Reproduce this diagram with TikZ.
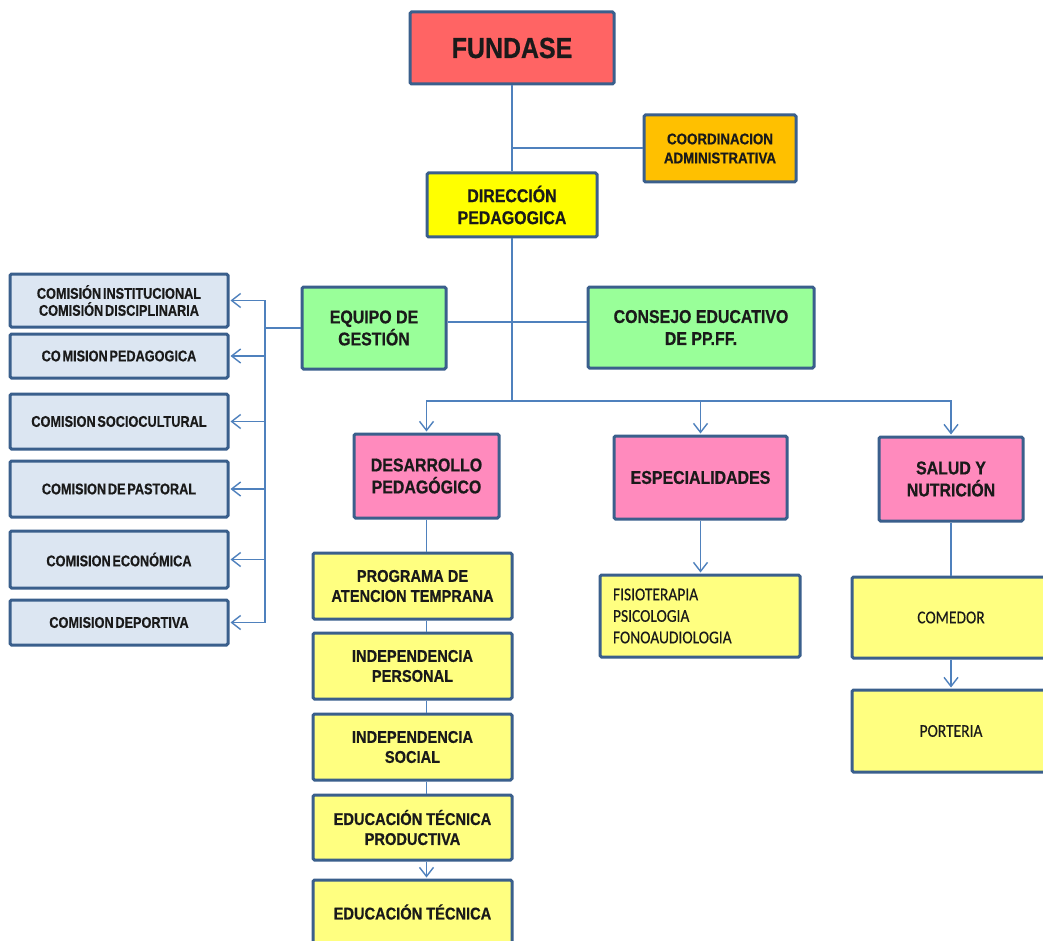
\documentclass[tikz,border=0pt]{standalone}
\usepackage{fontspec}
\setmainfont{Liberation Sans}[FakeStretch=0.86, BoldFeatures={FakeStretch=0.86, FakeBold=0.6}]
\newfontfamily\comfont{Liberation Sans}[WordSpace=0.5, FakeStretch=0.82, BoldFeatures={FakeStretch=0.82, FakeBold=0.6, WordSpace=0.5}]
\newfontfamily\calib{Carlito}[FakeStretch=0.86, FakeBold=0.3]
\usetikzlibrary{arrows.meta,calc}
\definecolor{bord}{HTML}{3A5F8C}
\definecolor{conn}{HTML}{4F81BD}
\definecolor{txt}{HTML}{1A1A1A}
\definecolor{cred}{HTML}{FF6464}
\definecolor{corange}{HTML}{FFC000}
\definecolor{cyellow}{HTML}{FFFF00}
\definecolor{cgreen}{HTML}{99FF99}
\definecolor{cpink}{HTML}{FF8ABD}
\definecolor{cblue}{HTML}{DCE6F2}
\definecolor{clyel}{HTML}{FFFF80}
\begin{document}
\begin{tikzpicture}[x=1pt,y=-1pt,
  box/.style={draw=bord, line width=3pt, rounded corners=1.5pt, align=center,
    inner sep=1pt, text=txt},
  ftop/.style={font=\bfseries\fontsize{29}{32}\selectfont},
  fbig/.style={font=\bfseries\fontsize{18.5}{22}\selectfont},
  fmid/.style={font=\bfseries\fontsize{15.5}{19}\selectfont},
  fcom/.style={font=\comfont\bfseries\fontsize{15.5}{17}\selectfont},
  fyel/.style={font=\bfseries\fontsize{17}{20}\selectfont},
  fcal/.style={font=\calib\fontsize{18}{21.5}\selectfont},
  comm/.style={box, fcom, fill=cblue, minimum width=218pt},
  yel/.style={box, fyel, fill=clyel, minimum width=199pt},
  pink/.style={box, fbig, fill=cpink},
  link/.style={draw=conn, line width=1.4pt},
  arr/.style={link, -{Straight Barb[length=9pt,width=14pt,line width=1.4pt]}, shorten >=1pt}
]
\useasboundingbox (0,0) rectangle (1043,941);
\fill[white] (0,0) rectangle (1043,941);
\clip (0,0) rectangle (1043,941);

% top
\node[box, ftop, fill=cred, minimum width=204pt, minimum height=72pt] (fund) at (512,48) {FUNDASE};
\node[box, fmid, fill=corange, minimum width=152pt, minimum height=67pt] (coord) at (720,148.5) {COORDINACION\\ADMINISTRATIVA};
\node[box, fbig, fill=cyellow, minimum width=170pt, minimum height=64pt] (dir) at (512,205) {DIRECCIÓN\\PEDAGOGICA};
\node[box, fbig, fill=cgreen, minimum width=144pt, minimum height=82pt] (equipo) at (374,328) {EQUIPO DE\\GESTIÓN};
\node[box, fbig, fill=cgreen, minimum width=226pt, minimum height=81pt] (consejo) at (701,327.5) {CONSEJO EDUCATIVO\\DE PP.FF.};

% commissions
\node[comm, minimum height=53pt] (c1) at (119,300.5) {COMISIÓN INSTITUCIONAL\\COMISIÓN DISCIPLINARIA};
\node[comm, minimum height=44pt] (c2) at (119,356) {CO MISION PEDAGOGICA};
\node[comm, minimum height=55pt] (c3) at (119,421.5) {COMISION SOCIOCULTURAL};
\node[comm, minimum height=56pt] (c4) at (119,489) {COMISION DE PASTORAL};
\node[comm, minimum height=57pt] (c5) at (119,559.5) {COMISION ECONÓMICA};
\node[comm, minimum height=45pt] (c6) at (119,622.5) {COMISION DEPORTIVA};

% second row
\node[pink, minimum width=145pt, minimum height=84pt] (desa) at (426.5,476) {DESARROLLO\\PEDAGÓGICO};
\node[pink, minimum width=173pt, minimum height=83pt] (espec) at (700.5,477.5) {ESPECIALIDADES};
\node[pink, minimum width=144pt, minimum height=84pt] (salud) at (951,479) {SALUD Y\\NUTRICIÓN};

% yellow column
\node[yel, minimum height=66pt] (y1) at (412.5,586) {PROGRAMA DE\\ATENCION TEMPRANA};
\node[yel, minimum height=66pt] (y2) at (412.5,666) {INDEPENDENCIA\\PERSONAL};
\node[yel, minimum height=66pt] (y3) at (412.5,747) {INDEPENDENCIA\\SOCIAL};
\node[yel, minimum height=65pt] (y4) at (412.5,827.5) {EDUCACIÓN TÉCNICA\\PRODUCTIVA};
\node[yel, minimum height=64pt] (y5) at (412.5,912) {EDUCACIÓN TÉCNICA};

% specialities / salud
\node[box, fcal, fill=clyel, align=left, text width=174pt, inner xsep=13pt, minimum height=82pt] (fisio) at (700,616) {FISIOTERAPIA\\PSICOLOGIA\\FONOAUDIOLOGIA};
\node[box, fcal, fill=clyel, minimum width=198pt, minimum height=81pt] (comedor) at (951,617.5) {COMEDOR};
\node[box, fcal, fill=clyel, minimum width=198pt, minimum height=82pt] (porteria) at (951,731) {PORTERIA};

% junctions
\coordinate (jc) at (512,148);
\coordinate (je) at (512,322);
\coordinate (bus) at (512,401);
\coordinate (lbus) at (265,328);

% connectors top
\draw[link] (fund.south) -- (dir.north);
\draw[link] (jc) -- (coord.west |- jc);
\draw[link] (equipo.east |- je) -- (consejo.west |- je);
\draw[link] (dir.south) -- (bus);
\draw[arr] (bus) -| (desa.north);
\draw[arr] (bus) -| (espec.north);
\draw[arr] (bus) -| (salud.north);

% left bus
\draw[link] (equipo.west) -- (lbus);
\foreach \c in {c1,c2,c3,c4,c5,c6}{
  \draw[arr] (lbus) |- (\c.east);
}

% yellow column
\draw[link] (desa.south) -- (desa.south |- y1.north);
\draw[link] (desa.south |- y1.south) -- (desa.south |- y2.north);
\draw[link] (desa.south |- y2.south) -- (desa.south |- y3.north);
\draw[link] (desa.south |- y3.south) -- (desa.south |- y4.north);
\draw[arr] (desa.south |- y4.south) -- (desa.south |- y5.north);

% right side
\draw[arr] (espec.south) -- (espec.south |- fisio.north);
\draw[link] (salud.south) -- (salud.south |- comedor.north);
\draw[arr] (comedor.south) -- (porteria.north);
\end{tikzpicture}
\end{document}
